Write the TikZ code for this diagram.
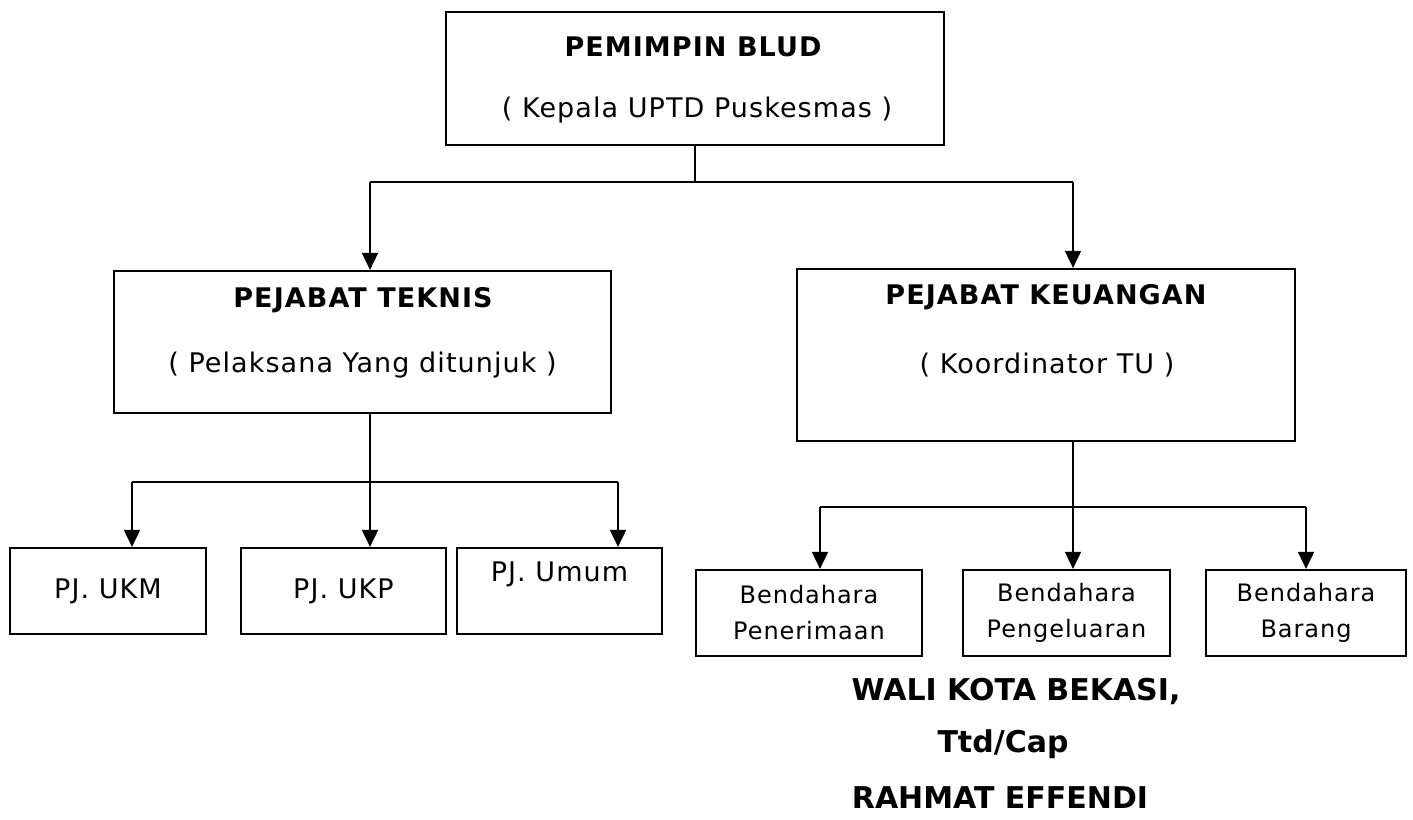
\documentclass[tikz,border=0pt]{standalone}
\usepackage{fontspec}
\setmainfont{DejaVu Sans}
\newfontfamily\hurufkotak{DejaVu Sans}[LetterSpace=4]
\usetikzlibrary{arrows.meta}
\begin{document}
\begin{tikzpicture}[x=0.5pt,y=-0.5pt,
		kotak/.style={draw,line width=1.1pt,inner sep=0pt},
		garis/.style={line width=0.9pt},
		panah/.style={garis,-{Triangle[length=8.5pt,width=8pt]}},
		judul/.style={font=\hurufkotak\fontsize{13.5}{16}\selectfont\bfseries},
		isi/.style={font=\hurufkotak\fontsize{13.5}{16}\selectfont},
		kecil/.style={font=\hurufkotak\fontsize{12}{18}\selectfont,align=center},
		ttd/.style={font=\fontsize{15}{18}\selectfont\bfseries,anchor=base}]
		\useasboundingbox (0,0) rectangle (1413,819);
		\node[kotak,minimum width=249pt,minimum height=66.5pt] (pimpin) at (695,78.5) {};
		\node[judul] (pimpinJ) at (693,47) {PEMIMPIN BLUD};
		\node[isi] (pimpinK) at (697,110) {( Kepala UPTD Puskesmas )};
		\node[kotak,minimum width=248.5pt,minimum height=71pt] (teknis) at (362.5,342) {};
		\node[judul] (teknisJ) at (363,300) {PEJABAT TEKNIS};
		\node[isi] (teknisK) at (362.5,365) {( Pelaksana Yang ditunjuk )};
		\node[kotak,minimum width=249pt,minimum height=86pt] (keuangan) at (1046,355) {};
		\node[judul] (keuanganJ) at (1046,297) {PEJABAT KEUANGAN};
		\node[isi] (keuanganK) at (1047,365) {( Koordinator TU )};
		\node[kotak,isi,minimum width=98pt,minimum height=43pt] (ukm) at (108,591) {PJ. UKM};
		\node[kotak,isi,minimum width=102.5pt,minimum height=43pt] (ukp) at (343.5,591) {PJ. UKP};
		\node[kotak,minimum width=102.5pt,minimum height=43pt] (umum) at (559.5,591) {};
		\node[isi] (umumK) at (559.5,574) {PJ. Umum};
		\node[kotak,kecil,minimum width=113pt,minimum height=43pt] (penerimaan) at (809,613) {Bendahara\\Penerimaan};
		\node[kotak,kecil,minimum width=103.5pt,minimum height=43pt] (pengeluaran) at (1066.5,613) {Bendahara\\Pengeluaran};
		\node[kotak,kecil,minimum width=100pt,minimum height=43pt] (barang) at (1306,613) {Bendahara\\Barang};
		\node[ttd] (wali) at (1016,700) {WALI KOTA BEKASI,};
		\node[ttd] (cap) at (1003,752) {Ttd/Cap};
		\node[ttd] (nama) at (1000,808) {RAHMAT EFFENDI};
		\coordinate (c1) at (370,182);
		\coordinate (c2) at (1073,182);
		\coordinate (c3) at (132,482);
		\coordinate (c4) at (618,482);
		\coordinate (c5) at (820,507);
		\coordinate (c6) at (1306,507);
		\draw[garis] (pimpin.south) -- (pimpin.south |- c1);
		\draw[garis] (c1) -- (c2);
		\draw[panah] (c1) -- (c1 |- teknis.north);
		\draw[panah] (c2) -- (c2 |- keuangan.north);
		\draw[garis] (c3) -- (c4);
		\draw[panah] (c1 |- teknis.south) -- (c1 |- ukp.north);
		\draw[panah] (c3) -- (c3 |- ukm.north);
		\draw[panah] (c4) -- (c4 |- umum.north);
		\draw[garis] (c5) -- (c6);
		\draw[panah] (c2 |- keuangan.south) -- (c2 |- pengeluaran.north);
		\draw[panah] (c5) -- (c5 |- penerimaan.north);
		\draw[panah] (c6) -- (c6 |- barang.north);
	\end{tikzpicture}
\end{document}
